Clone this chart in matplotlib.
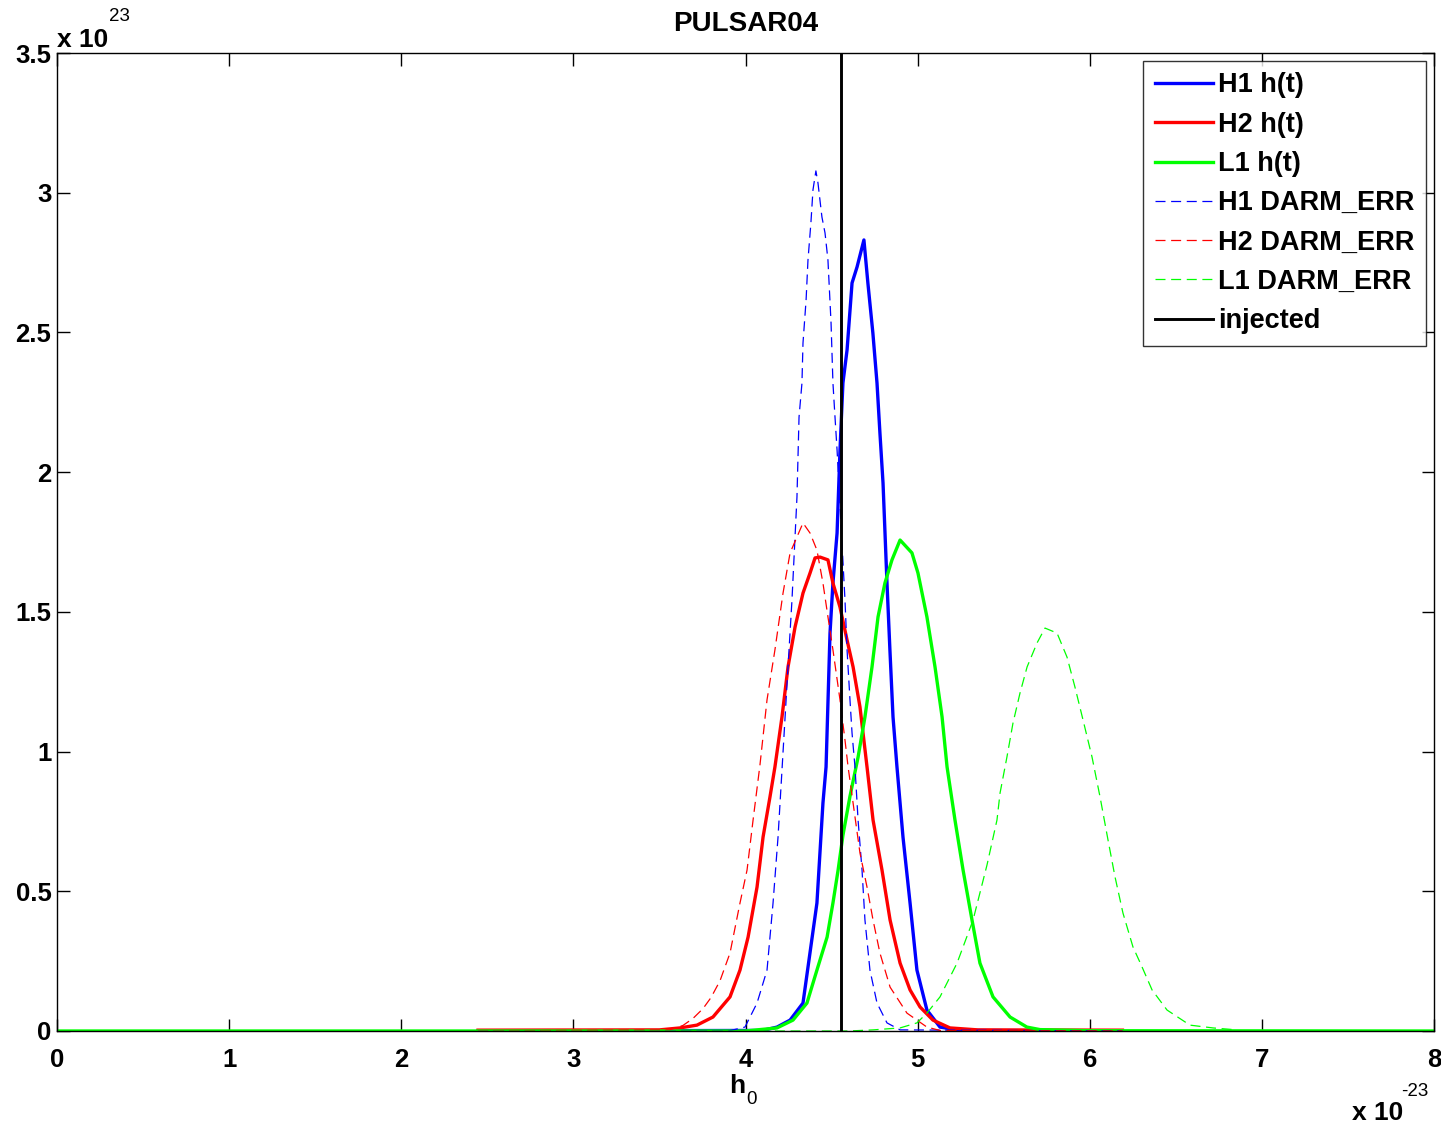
import matplotlib
matplotlib.use("Agg")
import matplotlib.pyplot as plt

plt.rcParams['font.family'] = ['Liberation Sans', 'DejaVu Sans']

# ---- data (x in units of 1e-23, y in units of 1e23) ----
h1_ht_x = [2.446, 4.100, 4.183, 4.259, 4.334, 4.415, 4.450, 4.468, 4.491, 4.508, 4.532, 4.549, 4.566,
           4.590, 4.619, 4.648, 4.688, 4.711, 4.740, 4.764, 4.781, 4.799, 4.822, 4.839, 4.857,
           4.880, 4.915, 4.956, 4.996, 5.054, 5.130, 5.250, 6.190]
h1_ht_y = [0.000, 0.002, 0.014, 0.039, 0.100, 0.458, 0.816, 0.945, 1.424, 1.603, 1.782, 2.079, 2.319,
           2.437, 2.677, 2.734, 2.831, 2.677, 2.498, 2.319, 2.140, 1.961, 1.603, 1.364, 1.124,
           0.945, 0.694, 0.458, 0.218, 0.075, 0.014, 0.002, 0.000]

h2_ht_x = [2.446, 3.500, 3.619, 3.718, 3.811, 3.910, 3.968, 4.015, 4.067, 4.102, 4.142, 4.171,
           4.212, 4.247, 4.288, 4.334, 4.375, 4.404, 4.433, 4.479, 4.508, 4.549, 4.590, 4.625,
           4.665, 4.706, 4.741, 4.793, 4.840, 4.898, 4.956, 5.014, 5.089, 5.188, 5.350, 6.190]
h2_ht_y = [0.003, 0.004, 0.011, 0.021, 0.050, 0.122, 0.218, 0.336, 0.515, 0.694, 0.837, 0.945,
           1.124, 1.303, 1.446, 1.567, 1.639, 1.693, 1.696, 1.686, 1.603, 1.517, 1.399, 1.303,
           1.160, 0.945, 0.755, 0.576, 0.397, 0.243, 0.147, 0.086, 0.039, 0.011, 0.004, 0.003]

l1_ht_x = [0.000, 4.000, 4.183, 4.276, 4.357, 4.415, 4.474, 4.508, 4.538, 4.566, 4.607, 4.654,
           4.694, 4.735, 4.770, 4.810, 4.851, 4.898, 4.967, 5.002, 5.054, 5.101, 5.142, 5.171,
           5.217, 5.264, 5.316, 5.362, 5.438, 5.537, 5.635, 5.711, 6.000, 8.000]
l1_ht_y = [0.000, 0.000, 0.011, 0.039, 0.100, 0.218, 0.336, 0.458, 0.576, 0.700, 0.840, 0.980,
           1.124, 1.303, 1.482, 1.603, 1.686, 1.757, 1.711, 1.639, 1.482, 1.303, 1.124, 0.945,
           0.755, 0.576, 0.397, 0.243, 0.122, 0.050, 0.014, 0.005, 0.001, 0.000]

h1_darm_x = [2.446, 3.900, 3.997, 4.067, 4.125, 4.160, 4.189, 4.212, 4.247, 4.270, 4.299, 4.311,
             4.328, 4.334, 4.352, 4.363, 4.380, 4.392, 4.409, 4.421, 4.444, 4.462, 4.479, 4.497,
             4.508, 4.520, 4.532, 4.578, 4.590, 4.607, 4.619, 4.636, 4.654, 4.677, 4.694, 4.723,
             4.764, 4.822, 4.898, 6.190]
h1_darm_y = [0.000, 0.000, 0.014, 0.100, 0.218, 0.458, 0.694, 0.934, 1.303, 1.542, 1.911, 2.197,
             2.319, 2.462, 2.616, 2.759, 2.892, 3.010, 3.078, 3.035, 2.913, 2.856, 2.759, 2.534,
             2.319, 2.197, 2.079, 1.542, 1.364, 1.185, 1.066, 0.945, 0.755, 0.576, 0.397, 0.218,
             0.100, 0.029, 0.004, 0.000]

h2_darm_x = [2.446, 3.561, 3.637, 3.695, 3.753, 3.800, 3.852, 3.910, 3.968, 4.009, 4.044, 4.084,
             4.125, 4.171, 4.218, 4.259, 4.299, 4.334, 4.375, 4.415, 4.450, 4.479, 4.508, 4.549,
             4.578, 4.596, 4.625, 4.665, 4.706, 4.741, 4.781, 4.840, 4.938, 5.054, 5.130, 6.190]
h2_darm_y = [0.000, 0.004, 0.020, 0.045, 0.080, 0.120, 0.180, 0.279, 0.458, 0.576, 0.755, 0.952,
             1.185, 1.364, 1.567, 1.711, 1.768, 1.818, 1.782, 1.721, 1.603, 1.482, 1.364, 1.185,
             1.041, 0.945, 0.816, 0.637, 0.515, 0.397, 0.279, 0.157, 0.064, 0.014, 0.002, 0.000]

l1_darm_x = [2.446, 4.600, 4.741, 4.898, 4.996, 5.054, 5.130, 5.229, 5.322, 5.403, 5.461, 5.479,
             5.519, 5.554, 5.595, 5.636, 5.694, 5.740, 5.810, 5.868, 5.914, 5.961, 6.013, 6.060,
             6.106, 6.147, 6.193, 6.251, 6.304, 6.362, 6.449, 6.582, 6.716, 6.855]
l1_darm_y = [0.000, 0.000, 0.004, 0.011, 0.029, 0.064, 0.122, 0.243, 0.397, 0.594, 0.755, 0.852,
             0.981, 1.102, 1.210, 1.303, 1.389, 1.442, 1.424, 1.338, 1.231, 1.113, 0.981, 0.837,
             0.684, 0.551, 0.422, 0.301, 0.229, 0.147, 0.075, 0.021, 0.011, 0.004]

injected = 4.556

labels = ['H1 h(t)', 'H2 h(t)', 'L1 h(t)', 'H1 DARM_ERR', 'H2 DARM_ERR', 'L1 DARM_ERR', 'injected']
x_ticks = [0, 1, 2, 3, 4, 5, 6, 7, 8]
y_ticks = [0, 0.5, 1, 1.5, 2, 2.5, 3, 3.5]
y_tick_labels = ['0', '0.5', '1', '1.5', '2', '2.5', '3', '3.5']

# ---- figure ----
W, H = 1441, 1127
fig = plt.figure(figsize=(W / 100, H / 100), dpi=100)
ax = fig.add_axes([57 / W, 1 - 1031 / H, (1434 - 57) / W, (1031 - 53) / H])

solid_lw = 2.4
dash_lw = 0.9
dpat = (8, 4.5)

ax.plot(h1_ht_x, h1_ht_y, color=(0, 0, 1), lw=solid_lw, label=labels[0])
ax.plot(h2_ht_x, h2_ht_y, color=(1, 0, 0), lw=solid_lw, label=labels[1])
ax.plot(l1_ht_x, l1_ht_y, color=(0, 1, 0), lw=solid_lw, label=labels[2])
ax.plot(h1_darm_x, h1_darm_y, color=(0, 0, 1), lw=dash_lw, dashes=dpat, label=labels[3])
ax.plot(h2_darm_x, h2_darm_y, color=(1, 0, 0), lw=dash_lw, dashes=dpat, label=labels[4])
ax.plot(l1_darm_x, l1_darm_y, color=(0, 1, 0), lw=dash_lw, dashes=dpat, label=labels[5])
ax.plot([injected, injected], [0, 3.5], color='black', lw=2.1, label=labels[6])

ax.set_xlim(0, 8)
ax.set_ylim(0, 3.5)
ax.set_xticks(x_ticks)
ax.set_xticklabels([str(t) for t in x_ticks], fontweight='bold')
ax.set_yticks(y_ticks)
ax.set_yticklabels(y_tick_labels, fontweight='bold')

ax.tick_params(direction='in', length=9, width=1, top=True, right=True,
               labelsize=18.5, colors='black')
ax.tick_params(axis='x', pad=12)
ax.tick_params(axis='y', pad=4)
for sp in ax.spines.values():
    sp.set_linewidth(1.0)
    sp.set_color('black')

# MATLAB-style exponent labels
fig.text(57 / W, 1 - 47 / H, 'x 10', fontsize=19, fontweight='bold', ha='left', va='baseline')
fig.text(109 / W, 1 - 21 / H, '23', fontsize=13.5, ha='left', va='baseline')
fig.text(1352 / W, 1 - 1120 / H, 'x 10', fontsize=19, fontweight='bold', ha='left', va='baseline')
fig.text(1401 / W, 1 - 1096 / H, '-23', fontsize=13.5, ha='left', va='baseline')

ax.set_title('PULSAR04', fontsize=20, fontweight='bold', pad=16)
fig.text(729 / W, 1 - 1093 / H, 'h', fontsize=19, fontweight='bold', ha='left', va='baseline')
fig.text(746 / W, 1 - 1104 / H, '0', fontsize=13.5, ha='left', va='baseline')

leg = ax.legend(loc='upper right', prop={'size': 19.5, 'weight': 'bold'}, frameon=True,
                fancybox=False, borderaxespad=0.28, handlelength=2.15, handletextpad=0.18,
                labelspacing=0.49, borderpad=0.44)
leg.get_frame().set_edgecolor('black')
leg.get_frame().set_linewidth(1.0)

fig.savefig('out.png', dpi=100)
